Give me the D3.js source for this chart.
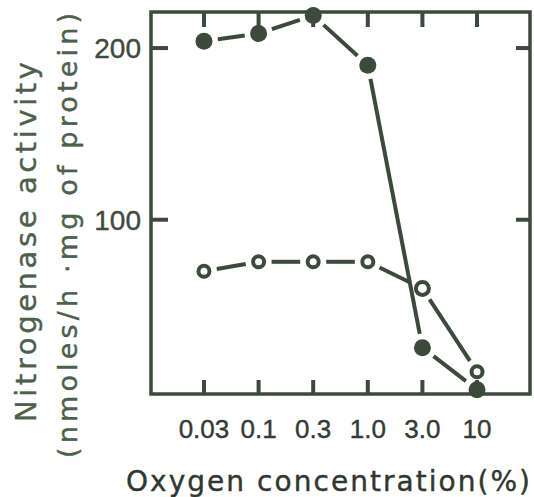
<!DOCTYPE html>
<html>
<head>
<meta charset="utf-8">
<script src="https://cdn.jsdelivr.net/npm/d3@7"></script>
<style>
  html, body { margin: 0; padding: 0; background: #fff; }
  svg { display: block; }
  text { font-family: "DejaVu Sans", sans-serif; }
  .tick-label { font-family: "Liberation Sans", Arial, sans-serif; }
</style>
</head>
<body>
<div id="chart"></div>
<script>
const oxygen = ["0.03", "0.1", "0.3", "1.0", "3.0", "10"];
const filledSeries = [204, 208.5, 219, 190, 25.5, 1];
const openSeries = [70, 75.5, 75.5, 75.5, 60, 11.5];
const yTicks = [100, 200];

const W = 534, H = 497;
const plot = { left: 151, right: 530, top: 12, bottom: 394 };
const ink = "#3c4a3b";

const svg = d3.select("#chart").append("svg")
  .attr("width", W)
  .attr("height", H);

const x = d3.scalePoint()
  .domain(oxygen)
  .range([plot.left, plot.right])
  .padding(0.97);

const y = d3.scaleLinear()
  .domain([-1.5, 221])
  .range([plot.bottom, plot.top]);

// frame
svg.append("rect")
  .attr("x", plot.left)
  .attr("y", plot.top)
  .attr("width", plot.right - plot.left)
  .attr("height", plot.bottom - plot.top)
  .attr("fill", "none")
  .attr("stroke", ink)
  .attr("stroke-width", 3.5);

// inward ticks on all four sides
const tk = svg.append("g").attr("stroke", ink).attr("stroke-width", 4);
oxygen.forEach(d => {
  tk.append("line").attr("x1", x(d)).attr("x2", x(d))
    .attr("y1", plot.bottom).attr("y2", plot.bottom - 14);
  tk.append("line").attr("x1", x(d)).attr("x2", x(d))
    .attr("y1", plot.top).attr("y2", plot.top + 15);
});
yTicks.forEach(v => {
  tk.append("line").attr("x1", plot.left).attr("x2", plot.left + 17)
    .attr("y1", y(v)).attr("y2", y(v));
  tk.append("line").attr("x1", plot.right).attr("x2", plot.right - 14)
    .attr("y1", y(v)).attr("y2", y(v));
});

// tick labels
svg.append("g").selectAll("text")
  .data(oxygen)
  .enter().append("text")
  .attr("class", "tick-label")
  .attr("x", d => x(d))
  .attr("y", 438)
  .attr("text-anchor", "middle")
  .attr("font-size", 26)
  .attr("fill", "#333d33")
  .attr("stroke", "#333d33")
  .attr("stroke-width", 0.4)
  .text(d => d);

svg.append("g").selectAll("text")
  .data(yTicks)
  .enter().append("text")
  .attr("class", "tick-label")
  .attr("x", 141)
  .attr("y", d => y(d) + 10)
  .attr("text-anchor", "end")
  .attr("font-size", 28)
  .attr("fill", "#3e4b3d")
  .attr("stroke", "#3e4b3d")
  .attr("stroke-width", 0.4)
  .text(d => d);

// axis titles
svg.append("text")
  .attr("x", 126)
  .attr("y", 491)
  .attr("font-size", 28)
  .attr("fill", "#2f382f")
  .attr("stroke", "#2f382f")
  .attr("stroke-width", 0.4)
  .attr("textLength", 404)
  .attr("lengthAdjust", "spacing")
  .text("Oxygen concentration(%)");

svg.append("text")
  .attr("transform", "translate(36,422) rotate(-90)")
  .attr("font-size", 29)
  .attr("fill", "#4d604b")
  .attr("stroke", "#4d604b")
  .attr("stroke-width", 0.4)
  .attr("textLength", 360)
  .attr("lengthAdjust", "spacing")
  .text("Nitrogenase activity");

svg.append("text")
  .attr("transform", "translate(77,458) rotate(-90)")
  .attr("font-size", 27)
  .attr("fill", "#4d604b")
  .attr("stroke", "#4d604b")
  .attr("stroke-width", 0.4)
  .attr("textLength", 445)
  .attr("lengthAdjust", "spacing")
  .text("(nmoles/h ·mg of protein)");

// connecting segments, cut short near each marker
function drawSeries(values, gap, width) {
  const pts = values.map((v, i) => [x(oxygen[i]), y(v)]);
  const g = svg.append("g").attr("stroke", ink).attr("stroke-width", width);
  d3.pairs(pts).forEach(([a, b]) => {
    const dx = b[0] - a[0], dy = b[1] - a[1];
    const len = Math.hypot(dx, dy);
    if (len <= gap * 2) return;
    const ux = dx / len, uy = dy / len;
    g.append("line")
      .attr("x1", a[0] + ux * gap).attr("y1", a[1] + uy * gap)
      .attr("x2", b[0] - ux * gap).attr("y2", b[1] - uy * gap);
  });
}

drawSeries(openSeries, 13, 4);
drawSeries(filledSeries, 14, 4);

svg.append("g").selectAll("circle")
  .data(openSeries)
  .enter().append("circle")
  .attr("cx", (d, i) => x(oxygen[i]))
  .attr("cy", d => y(d))
  .attr("r", (d, i) => i === 4 ? 6.5 : 5.5)
  .attr("fill", "#fff")
  .attr("stroke", ink)
  .attr("stroke-width", 4);

svg.append("g").selectAll("circle")
  .data(filledSeries)
  .enter().append("circle")
  .attr("cx", (d, i) => x(oxygen[i]))
  .attr("cy", d => y(d))
  .attr("r", 8.5)
  .attr("fill", ink);
</script>
</body>
</html>
